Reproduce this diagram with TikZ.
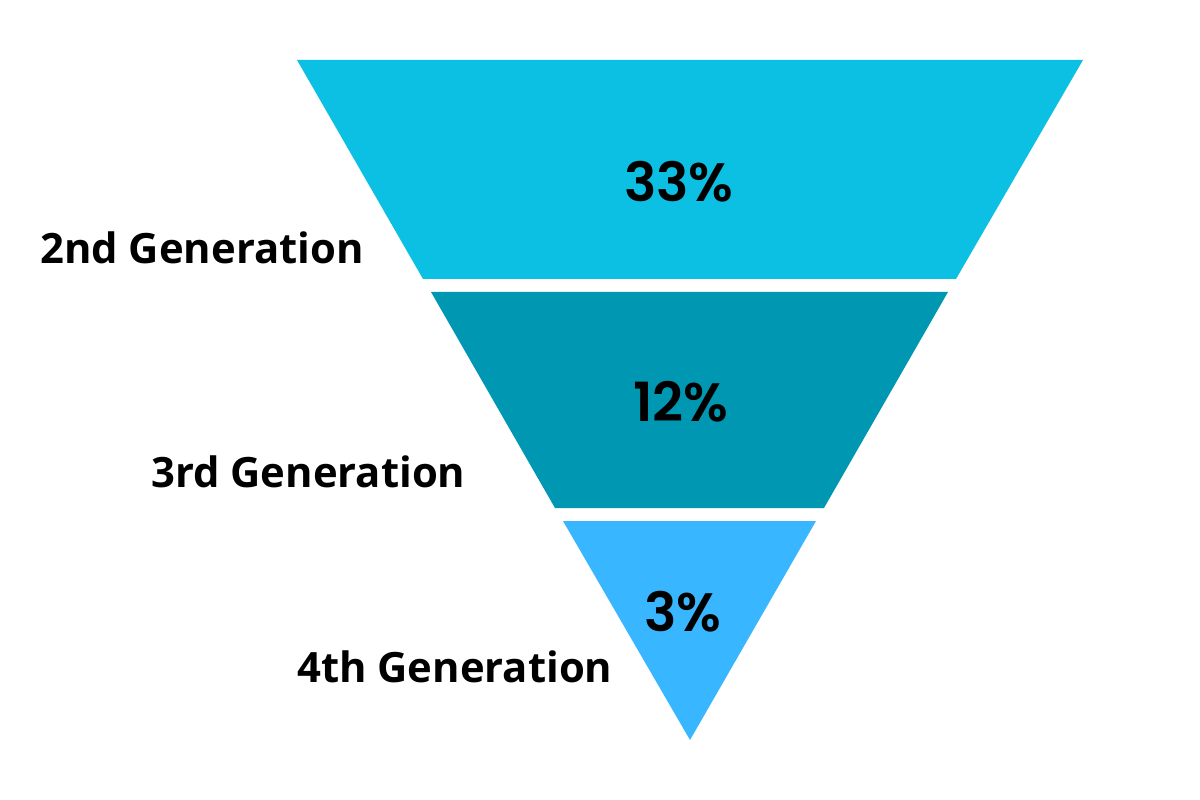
\documentclass[tikz,border=0pt]{standalone}
\usepackage{fontspec}
\setmainfont{Open Sans}
\newfontfamily\pctfont{Poppins SemiBold}
\definecolor{TopTeal}{HTML}{0CC0E3}
\definecolor{MidTeal}{HTML}{0097B2}
\definecolor{BotBlue}{HTML}{38B6FF}
\begin{document}
\begin{tikzpicture}[x=0.01in,y=-0.01in,
    GenLabel/.style={anchor=west,text=black,font=\fontsize{30.2}{36}\selectfont\bfseries,inner sep=0pt},
    PctLabel/.style={text=black,font=\pctfont\fontsize{39}{44}\selectfont,inner sep=0pt}]
    \useasboundingbox (0,0) rectangle (1200,800);

    % Funnel slices
    \fill[TopTeal] (297,60) -- (1083,60) -- (956,279) -- (423,279) -- cycle;
    \fill[MidTeal] (431,292) -- (948,292) -- (824,508) -- (555,508) -- cycle;
    \fill[BotBlue] (563,521) -- (816,521) -- (690,740) -- cycle;

    % Percentages
    \node[PctLabel] (Pct33) at (679,182) {33\%};
    \node[PctLabel] (Pct12) at (681,402) {12\%};
    \node[PctLabel] (Pct3) at (683,612) {3\%};

    % Generation labels
    \node[GenLabel] (Gen2) at (40,248) {2nd Generation};
    \node[GenLabel] (Gen3) at (151,472) {3rd Generation};
    \node[GenLabel] (Gen4) at (297,667) {4th Generation};
\end{tikzpicture}
\end{document}
